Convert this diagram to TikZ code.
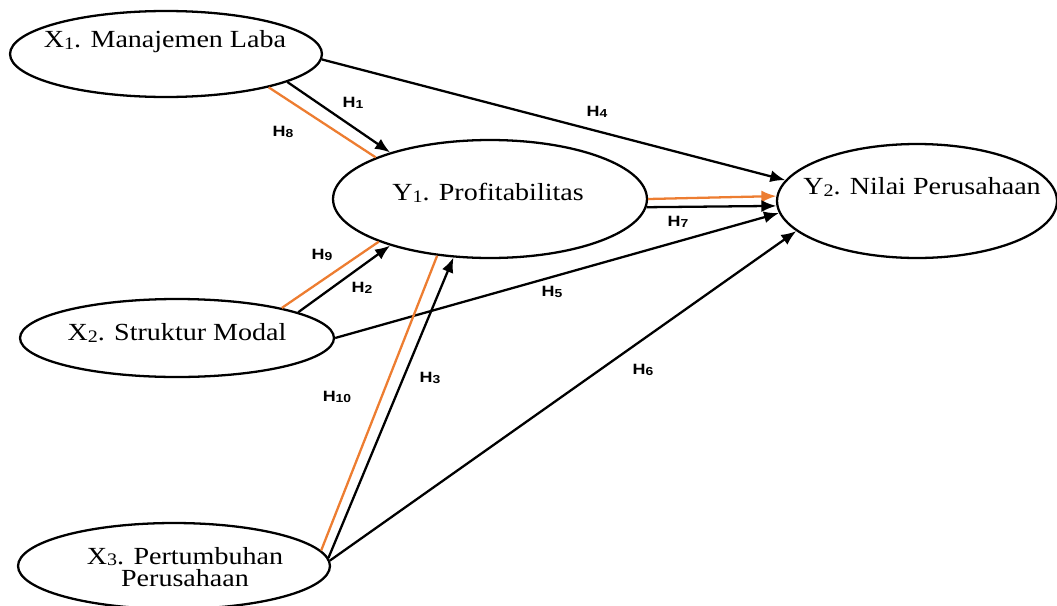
\documentclass[tikz,border=0pt]{standalone}
\usepackage{fontspec}
\setmainfont{Liberation Serif}
\newfontfamily\varfont[FakeStretch=1.14]{Liberation Serif}
\newfontfamily\hypfont[FakeStretch=1.2]{Liberation Sans}
\usetikzlibrary{arrows.meta,shapes.geometric}
\definecolor{pathorange}{RGB}{237,125,49}
\newcommand{\hyp}[1]{H\raisebox{-0.5pt}{\fontsize{6.6}{6}\selectfont #1}}
\newcommand{\idx}[1]{\raisebox{-0.8pt}{\fontsize{10}{10}\selectfont #1}}

\tikzset{
  var/.style={draw, ellipse, line width=1.3pt, inner sep=0pt},
  vartext/.style={font=\varfont\fontsize{14}{13}\selectfont, align=center, inner sep=0pt},
  hyplabel/.style={font=\hypfont\bfseries\fontsize{8.5}{8}\selectfont, inner sep=0pt},
  effect/.style={line width=1.3pt, -{Latex[length=0.3cm,width=0.24cm]}},
  mediated/.style={line width=1.3pt, pathorange},
}

\begin{document}
\begin{tikzpicture}[x=0.02cm, y=-0.02cm]
    \useasboundingbox (0,0) rectangle (1057,605);

    \node[var, minimum width=6.24cm, minimum height=1.72cm] (x1) at (166,54) {};
    \node[var, minimum width=6.28cm, minimum height=1.56cm] (x2) at (177,338) {};
    \node[var, minimum width=6.24cm, minimum height=1.72cm] (x3) at (174,566) {};
    \node[var, minimum width=6.28cm, minimum height=2.36cm] (y1) at (490,199) {};
    \node[var, minimum width=5.60cm, minimum height=2.28cm] (y2) at (917,201) {};

    \node[vartext] (x1t) at (165,42) {X\idx{1}. Manajemen Laba};
    \node[vartext] (x2t) at (177,333) {X\idx{2}. Struktur Modal};
    \node[vartext] (x3t) at (185,567) {X\idx{3}. Pertumbuhan\\Perusahaan};
    \node[vartext] (y1t) at (488,193) {Y\idx{1}. Profitabilitas};
    \node[vartext] (y2t) at (922,187) {Y\idx{2}. Nilai Perusahaan};

    \draw[mediated] (x1.-18.3) -- (y1.160.5);
    \draw[effect] (x1.-13.7) -- (y1.155.5);
    \draw[effect] (x1.-2.2) -- (y2.171.9);
    \draw[effect, pathorange] (y1.0.4) -- (y2.178.4);
    \draw[effect] (y1.-3.3) -- (y2.182.5);
    \draw[effect] (x2.-0.7) -- (y2.185.8);
    \draw[effect] (x3.2.2) -- (y2.194.9);
    \draw[mediated] (x2.16.2) -- (y1.201.8);
    \draw[effect] (x2.12.6) -- (y1.205.2);
    \draw[mediated] (x3.6.3) -- (y1.227);
    \draw[effect] (x3.3.3) -- (y1.238);

    \node[hyplabel] (h1) at (353,103) {\hyp{1}};
    \node[hyplabel] (h2) at (362,288) {\hyp{2}};
    \node[hyplabel] (h3) at (430,378) {\hyp{3}};
    \node[hyplabel] (h4) at (597,112) {\hyp{4}};
    \node[hyplabel] (h5) at (552,292) {\hyp{5}};
    \node[hyplabel] (h6) at (643,370) {\hyp{6}};
    \node[hyplabel] (h7) at (678,222) {\hyp{7}};
    \node[hyplabel] (h8) at (283,132) {\hyp{8}};
    \node[hyplabel] (h9) at (322,255) {\hyp{9}};
    \node[hyplabel] (h10) at (337,397) {\hyp{10}};
\end{tikzpicture}
\end{document}
